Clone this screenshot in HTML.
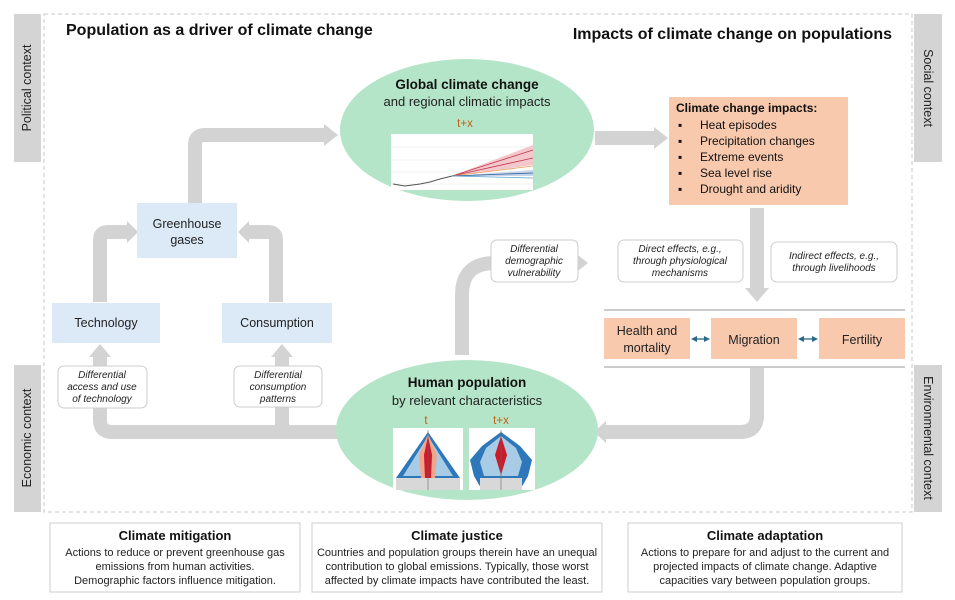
<!DOCTYPE html>
<html><head><meta charset="utf-8"><style>
html,body{margin:0;padding:0;background:#fff;}
svg{display:block;font-family:"Liberation Sans",sans-serif;}
.it{font-style:italic;font-size:10px;fill:#222;}
.lb{font-size:12.5px;fill:#222;}
.bt{font-size:11px;fill:#222;}
</style></head><body>
<svg width="955" height="600" viewBox="0 0 955 600" xmlns="http://www.w3.org/2000/svg">
<defs><marker id="a" markerWidth="6" markerHeight="6" refX="3" refY="3" orient="auto-start-reverse" markerUnits="userSpaceOnUse"><path d="M0,0 L6,3 L0,6z" fill="#2a6a86"/></marker></defs>
<rect x="44" y="14" width="868" height="498" fill="none" stroke="#c8c8c8" stroke-dasharray="4,3"/>
<rect x="14" y="14" width="27" height="148" fill="#d4d4d4"/>
<rect x="14" y="365" width="27" height="147" fill="#d4d4d4"/>
<rect x="914" y="14" width="28" height="148" fill="#d4d4d4"/>
<rect x="914" y="365" width="28" height="147" fill="#d4d4d4"/>
<text transform="translate(31,88) rotate(-90)" text-anchor="middle" font-size="12.5" fill="#222">Political context</text>
<text transform="translate(31,438) rotate(-90)" text-anchor="middle" font-size="12.5" fill="#222">Economic context</text>
<text transform="translate(924,88) rotate(90)" text-anchor="middle" font-size="12.5" fill="#222">Social context</text>
<text transform="translate(924,438) rotate(90)" text-anchor="middle" font-size="12.5" fill="#222">Environmental context</text>
<text x="66" y="35" font-size="16" font-weight="bold" fill="#111">Population as a driver of climate change</text>
<text x="892" y="39" text-anchor="end" font-size="16" font-weight="bold" fill="#111">Impacts of climate change on populations</text>

<g fill="none" stroke="#d3d3d3" stroke-width="14">
<path d="M195,203 V145 Q195,135 205,135 H325"/>
<path d="M595,138 H655"/>
<path d="M757,208 V290"/>
<path d="M757,368 V415 Q757,432 740,432 H605"/>
<path d="M462,355 V295 Q462,263 495,263 H575"/>
<path d="M337,432 H112 Q100,432 100,420 V355"/>
<path d="M282,432 V355"/>
<path d="M100,302 V240 Q100,232 108,232 H128"/>
<path d="M276,302 V240 Q276,232 268,232 H248"/>
</g>
<g fill="#d3d3d3">
<path d="M324,124 L338,135 L324,146z"/>
<path d="M654,127 L668,138 L654,149z"/>
<path d="M745,288 L757,302 L769,288z"/>
<path d="M606,421 L594,432 L606,443z"/>
<path d="M574,252 L588,263 L574,274z"/>
<path d="M89,357 L100,344 L111,357z"/>
<path d="M271,357 L282,344 L293,357z"/>
<path d="M127,221 L138,232 L127,243z"/>
<path d="M249,221 L238,232 L249,243z"/>
</g>

<ellipse cx="467" cy="130" rx="127" ry="71" fill="#b5e5c8"/>
<text x="467" y="89" text-anchor="middle" font-size="13.5" font-weight="bold" fill="#111">Global climate change</text>
<text x="467" y="106" text-anchor="middle" font-size="13" fill="#222">and regional climatic impacts</text>
<text x="465" y="127" text-anchor="middle" font-size="11.5" fill="#c0601a">t+x</text>
<rect x="391" y="134" width="142" height="56" fill="#fff"/>
<g stroke="#eee" stroke-width="0.7"><path d="M391,147H533M391,160H533M391,172H533M391,184H533"/></g>
<path d="M452,176 L533,145 L533,165 Z" fill="#f3c7cc"/>
<path d="M452,176 L533,170 L533,176 Z" fill="#c7d5ea"/>
<path d="M393,184 L405,186 L420,184 L430,182 L440,179 L452,176" stroke="#555" fill="none" stroke-width="1"/>
<path d="M452,176 L533,150" stroke="#c0394f" fill="none" stroke-width="0.8"/>
<path d="M452,176 L533,158" stroke="#c0394f" fill="none" stroke-width="0.8"/>
<path d="M452,176 L533,166" stroke="#e8a060" fill="none" stroke-width="0.8"/>
<path d="M452,176 L533,173" stroke="#2b5e9a" fill="none" stroke-width="0.8"/>
<path d="M452,176 L533,178" stroke="#5ba0d0" fill="none" stroke-width="0.8"/>

<ellipse cx="467" cy="430" rx="131" ry="70" fill="#b5e5c8"/>
<text x="467" y="387" text-anchor="middle" font-size="13.5" font-weight="bold" fill="#111">Human population</text>
<text x="467" y="405" text-anchor="middle" font-size="13" fill="#222">by relevant characteristics</text>
<text x="426" y="424" text-anchor="middle" font-size="11.5" fill="#c0601a">t</text>
<text x="501" y="424" text-anchor="middle" font-size="11.5" fill="#c0601a">t+x</text>
<rect x="393" y="428" width="70" height="62" fill="#fff"/>
<rect x="469" y="428" width="66" height="62" fill="#fff"/>
<polygon points="428,432 460,478 460,490 396,490 396,478" fill="#2d77bb"/>
<polygon points="428,436 453,476 403,476" fill="#a8cbe6"/>
<rect x="396" y="478" width="64" height="12" fill="#d8d8d8"/>
<polygon points="428,434 437,455 435,478 421,478 419,455" fill="#f3a58b"/>
<polygon points="428,436 432,455 431,478 425,478 424,455" fill="#cc1a2a"/>
<polygon points="501,432 520,446 532,460 528,476 520,490 482,490 474,476 470,460 482,446" fill="#2d77bb"/>
<polygon points="501,436 516,448 522,462 518,476 484,476 480,462 486,448" fill="#a8cbe6"/>
<rect x="480" y="478" width="42" height="12" fill="#d8d8d8"/>
<polygon points="501,436 507,455 501,475 495,455" fill="#cc1a2a"/>
<line x1="428" y1="430" x2="428" y2="490" stroke="#666" stroke-width="0.6"/>
<line x1="501" y1="430" x2="501" y2="490" stroke="#666" stroke-width="0.6"/>

<rect x="669" y="97" width="179" height="108" fill="#f8c9ad"/>
<text x="676" y="112" font-size="12" font-weight="bold" fill="#111">Climate change impacts:</text>
<g font-size="12" fill="#111">
<text x="678" y="129">▪</text><text x="700" y="129">Heat episodes</text>
<text x="678" y="145">▪</text><text x="700" y="145">Precipitation changes</text>
<text x="678" y="161">▪</text><text x="700" y="161">Extreme events</text>
<text x="678" y="177">▪</text><text x="700" y="177">Sea level rise</text>
<text x="678" y="193">▪</text><text x="700" y="193">Drought and aridity</text>
</g>

<rect x="137" y="203" width="100" height="55" fill="#dce9f7"/>
<text x="187" y="228" text-anchor="middle" class="lb">Greenhouse</text>
<text x="187" y="244" text-anchor="middle" class="lb">gases</text>
<rect x="52" y="303" width="108" height="40" fill="#dce9f7"/>
<text x="106" y="327" text-anchor="middle" class="lb">Technology</text>
<rect x="222" y="303" width="110" height="40" fill="#dce9f7"/>
<text x="277" y="327" text-anchor="middle" class="lb">Consumption</text>

<g fill="#fff" stroke="#ccc">
<rect x="58" y="366" width="89" height="42" rx="6"/>
<rect x="234" y="366" width="88" height="41" rx="6"/>
<rect x="491" y="240" width="87" height="42" rx="6"/>
<rect x="618" y="240" width="125" height="42" rx="6"/>
<rect x="771" y="242" width="126" height="40" rx="6"/>
</g>
<g class="it" text-anchor="middle">
<text x="102" y="378">Differential</text><text x="102" y="390">access and use</text><text x="102" y="402">of technology</text>
<text x="278" y="378">Differential</text><text x="278" y="390">consumption</text><text x="278" y="402">patterns</text>
<text x="534" y="252">Differential</text><text x="534" y="264">demographic</text><text x="534" y="276">vulnerability</text>
<text x="680" y="252">Direct effects, e.g.,</text><text x="680" y="264">through physiological</text><text x="680" y="276">mechanisms</text>
<text x="834" y="259">Indirect effects, e.g.,</text><text x="834" y="271">through livelihoods</text>
</g>

<line x1="604" y1="310" x2="905" y2="310" stroke="#bbb" stroke-width="1.5"/>
<line x1="604" y1="367" x2="905" y2="367" stroke="#bbb" stroke-width="1.5"/>
<rect x="604" y="318" width="86" height="41" fill="#f8c9ad"/>
<rect x="711" y="318" width="86" height="41" fill="#f8c9ad"/>
<rect x="819" y="318" width="86" height="41" fill="#f8c9ad"/>
<text x="647" y="335" text-anchor="middle" class="lb">Health and</text>
<text x="647" y="352" text-anchor="middle" class="lb">mortality</text>
<text x="754" y="344" text-anchor="middle" class="lb">Migration</text>
<text x="862" y="344" text-anchor="middle" class="lb">Fertility</text>
<line x1="694" y1="339" x2="707" y2="339" stroke="#2a6a86" stroke-width="1.3" marker-start="url(#a)" marker-end="url(#a)"/>
<line x1="801" y1="339" x2="815" y2="339" stroke="#2a6a86" stroke-width="1.3" marker-start="url(#a)" marker-end="url(#a)"/>

<g fill="#fff" stroke="#ccc">
<rect x="50" y="523" width="250" height="69"/>
<rect x="312" y="523" width="290" height="69"/>
<rect x="628" y="523" width="274" height="69"/>
</g>
<g text-anchor="middle">
<text x="175" y="540" font-size="13" font-weight="bold" fill="#111">Climate mitigation</text>
<text x="175" y="556" class="bt">Actions to reduce or prevent greenhouse gas</text>
<text x="175" y="570" class="bt">emissions from human activities.</text>
<text x="175" y="584" class="bt">Demographic factors influence mitigation.</text>
<text x="457" y="540" font-size="13" font-weight="bold" fill="#111">Climate justice</text>
<text x="457" y="556" class="bt">Countries and population groups therein have an unequal</text>
<text x="457" y="570" class="bt">contribution to global emissions. Typically, those worst</text>
<text x="457" y="584" class="bt">affected by climate impacts have contributed the least.</text>
<text x="765" y="540" font-size="13" font-weight="bold" fill="#111">Climate adaptation</text>
<text x="765" y="556" class="bt">Actions to prepare for and adjust to the current and</text>
<text x="765" y="570" class="bt">projected impacts of climate change. Adaptive</text>
<text x="765" y="584" class="bt">capacities vary between population groups.</text>
</g>
</svg>
</body></html>
